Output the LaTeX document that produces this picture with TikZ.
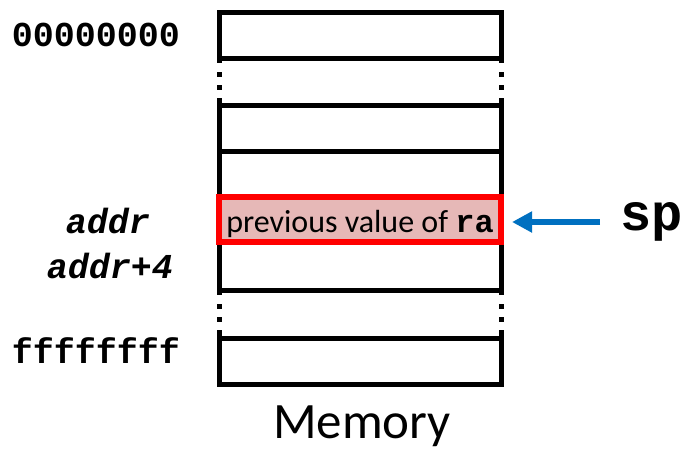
\documentclass[tikz,border=0pt]{standalone}
\usepackage{fontspec}
\setmainfont{Carlito}
\newfontfamily\cour{Liberation Mono}
\usetikzlibrary{arrows.meta}
\definecolor{cellred}{HTML}{E6B8B7}
\definecolor{arrowblue}{HTML}{0070C0}
\begin{document}
\begin{tikzpicture}[x=1pt,y=-1pt,
  cell/.style={draw=black,line width=5pt,minimum width=282pt,inner sep=0pt,outer sep=0pt},
  gapline/.style={line width=5pt,dash pattern=on 5pt off 9pt on 5pt off 8pt on 5pt off 8pt on 10pt},
  addr/.style={font=\cour\bfseries\fontsize{35}{35}\selectfont,anchor=base,inner sep=0pt},
  addrit/.style={font=\cour\bfseries\itshape\fontsize{35}{35}\selectfont,anchor=base,inner sep=0pt}]
\useasboundingbox (0,0) rectangle (684,451);
% cells
\node[cell,minimum height=45.5pt] (c1) at (360,35.25) {};
\node[cell,minimum height=46pt] (c2) at (360,128) {};
\node[cell,minimum height=46pt] (c3) at (360,174) {};
\node[cell,minimum height=48pt] (c5) at (360,266) {};
\node[cell,minimum height=46pt] (c6) at (360,361) {};
% gaps
\draw[gapline] (c1.south west) -- (c2.north west);
\draw[gapline] (c1.south east) -- (c2.north east);
\draw[gapline] (c5.south west) -- (c6.north west);
\draw[gapline] (c5.south east) -- (c6.north east);
% highlighted cell
\node[draw=red,fill=cellred,line width=6pt,minimum width=282pt,minimum height=45pt,inner sep=0pt,outer sep=0pt] (c4) at (360,219.5) {};
\node[anchor=base,inner sep=0pt,font=\fontsize{32}{32}\selectfont] (t4) at (360,232) {previous value of {\cour\bfseries ra}};
% address labels
\node[addr] (a0) at (96,46.5) {00000000};
\node[addrit] (a1) at (108,233) {addr};
\node[addrit] (a2) at (110,278) {addr+4};
\node[addr] (af) at (96,363) {ffffffff};
% sp
\node[anchor=base west,inner sep=0pt,font=\cour\bfseries\fontsize{52}{52}\selectfont] (sp) at (620,230) {sp};
\coordinate (spa) at (600,222);
\coordinate (tip) at (512,222);
\draw[arrowblue,line width=6pt,-{Triangle[length=20pt,width=20pt]}] (spa) -- (tip);
% caption
\node[anchor=base,inner sep=0pt,font=\fontsize{51}{51}\selectfont] (mem) at (362,438) {Memory};
\end{tikzpicture}
\end{document}
